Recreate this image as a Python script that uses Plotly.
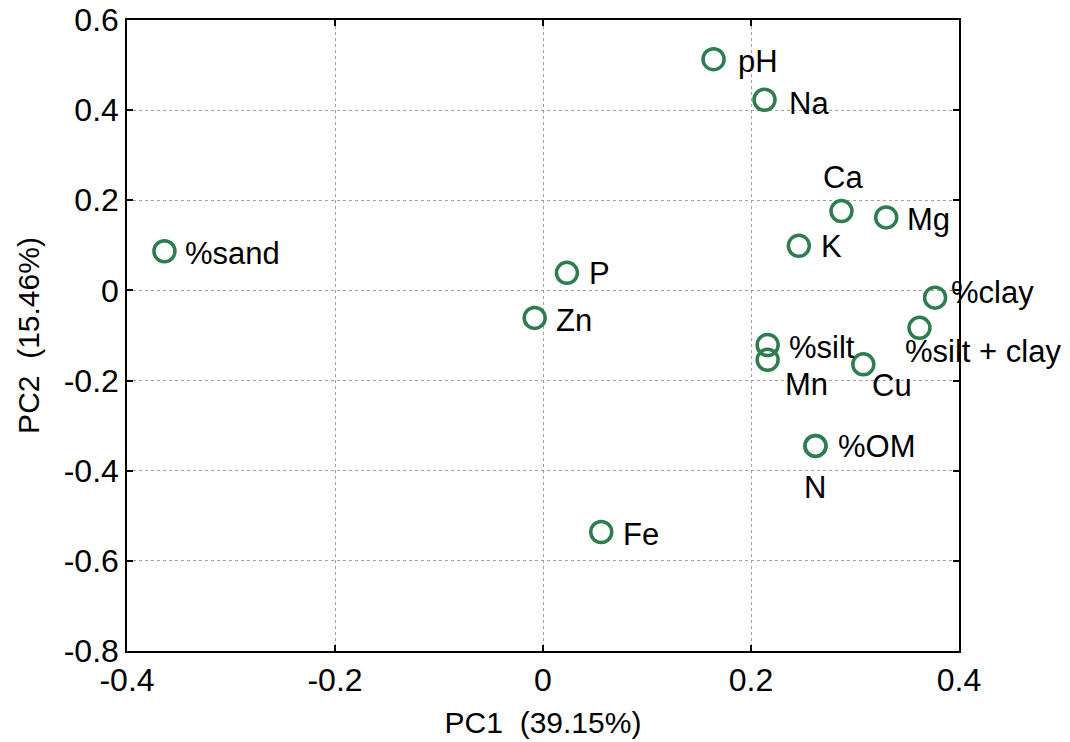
import plotly.graph_objects as go

names = ["%sand", "P", "Zn", "Fe", "pH", "Na", "Ca", "Mg", "K", "%clay",
         "%silt + clay", "%silt", "Mn", "Cu", "%OM", "N"]
pc1 = [-0.364, 0.023, -0.008, 0.056, 0.164, 0.213, 0.287, 0.330, 0.246, 0.377,
       0.362, 0.216, 0.216, 0.308, 0.262, 0.262]
pc2 = [0.087, 0.039, -0.061, -0.536, 0.513, 0.423, 0.176, 0.162, 0.099, -0.016,
       -0.083, -0.121, -0.154, -0.164, -0.345, -0.345]

x_ticks = [-0.4, -0.2, 0, 0.2, 0.4]
x_ticktext = ["-0.4", "-0.2", "0", "0.2", "0.4"]
y_ticks = [-0.8, -0.6, -0.4, -0.2, 0, 0.2, 0.4, 0.6]
y_ticktext = ["-0.8", "-0.6", "-0.4", "-0.2", "0", "0.2", "0.4", "0.6"]

# label offsets in pixels (style): (xshift, yshift, xanchor)
offsets = {
    "%sand": (19, -2, "left"), "P": (20, -1, "left"), "Zn": (19, -3, "left"),
    "Fe": (20, -2, "left"), "pH": (22, -2, "left"), "Na": (22, -4, "left"),
    "Ca": (2, 34, "center"), "Mg": (19, -2, "left"), "K": (20, -1, "left"),
    "%clay": (14, 5, "left"), "%silt + clay": (-16, -24, "left"),
    "%silt": (19, -3, "left"), "Mn": (15, -25, "left"), "Cu": (7, -21, "left"),
    "%OM": (21, -1, "left"), "N": (0, -42, "center"),
}

green = "#2E7D4F"
font_family = "Liberation Sans, Arial, sans-serif"

fig = go.Figure()
fig.add_trace(go.Scatter(
    x=pc1, y=pc2, mode="markers",
    marker=dict(symbol="circle-open", size=21, color=green,
                line=dict(color=green, width=3.5)),
    hoverinfo="text", text=names, cliponaxis=False,
))

for n, xv, yv in zip(names, pc1, pc2):
    dx, dy, anc = offsets[n]
    fig.add_annotation(x=xv, y=yv, text=n, showarrow=False, xshift=dx, yshift=dy,
                       xanchor=anc, yanchor="middle",
                       font=dict(size=31, color="black", family=font_family))

axis_common = dict(
    showline=True, linecolor="black", linewidth=1.5, mirror="allticks",
    ticks="inside", ticklen=6, tickcolor="black", tickwidth=1.5,
    showgrid=True, gridcolor="#a0a0a0", gridwidth=1, griddash="dot",
    zeroline=False, automargin=False,
    tickfont=dict(size=32, color="black", family=font_family),
)

fig.update_layout(
    width=1070, height=742,
    margin=dict(l=127, r=111, t=20, b=91),
    paper_bgcolor="white", plot_bgcolor="white",
    showlegend=False,
    font=dict(family=font_family, color="black"),
    xaxis=dict(range=[-0.4, 0.4], tickvals=x_ticks, ticktext=x_ticktext,
               title=dict(text="PC1  (39.15%)", font=dict(size=30)),
               **axis_common),
    yaxis=dict(range=[-0.8, 0.6], tickvals=y_ticks, ticktext=y_ticktext,
               title=dict(text="PC2  (15.46%)", font=dict(size=30)),
               **axis_common),
)

fig.write_html("out.html")
